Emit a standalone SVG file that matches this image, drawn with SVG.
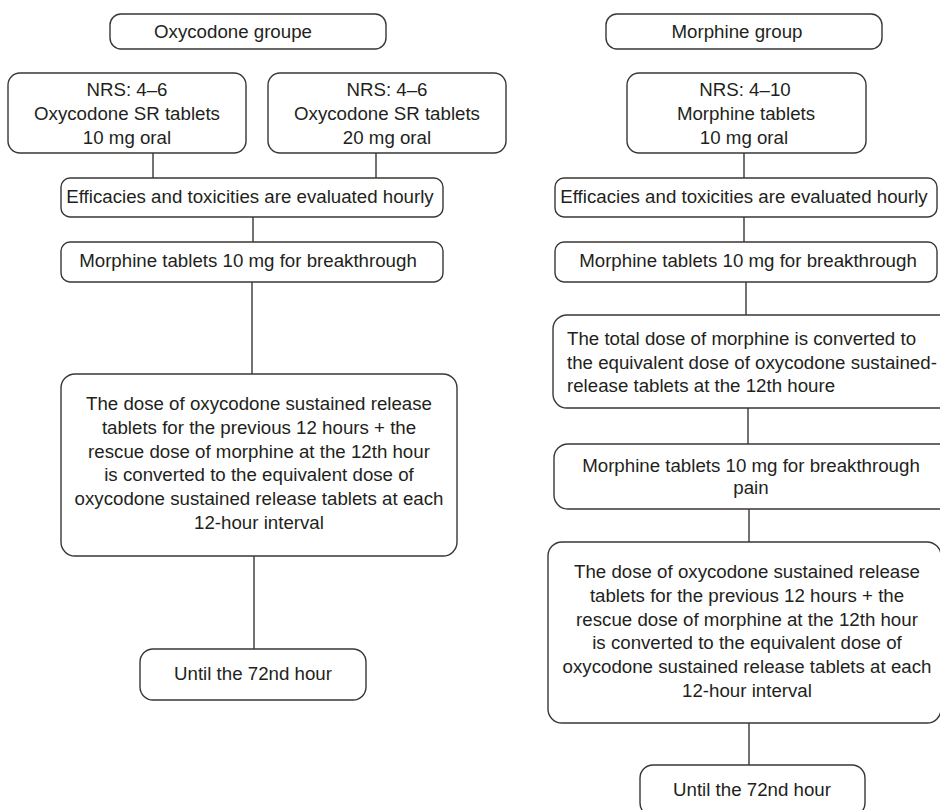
<svg xmlns="http://www.w3.org/2000/svg" width="940" height="810" viewBox="0 0 940 810">
<style>
.box{fill:#ffffff;stroke:#3a3635;stroke-width:1.4}
.t{font-family:"Liberation Sans",Arial,Helvetica,sans-serif;font-size:18.7px;fill:#231f20;text-anchor:middle}
.l{text-anchor:start}
.c{stroke:#3a3635;stroke-width:1.4;fill:none}
</style>
<rect width="940" height="810" fill="#ffffff"/>
<g id="connectors">
<line class="c" x1="153" y1="153" x2="153" y2="178"/>
<line class="c" x1="376" y1="153" x2="376" y2="178"/>
<line class="c" x1="253" y1="217" x2="253" y2="242"/>
<line class="c" x1="252" y1="282" x2="252" y2="374"/>
<line class="c" x1="254" y1="556" x2="254" y2="649"/>
<line class="c" x1="744" y1="153" x2="744" y2="178"/>
<line class="c" x1="744" y1="217" x2="744" y2="242"/>
<line class="c" x1="746" y1="282" x2="746" y2="315"/>
<line class="c" x1="748" y1="408" x2="748" y2="444"/>
<line class="c" x1="749" y1="509" x2="749" y2="542"/>
<line class="c" x1="749" y1="723" x2="749" y2="765"/>
</g>
<g id="oxy-group">
<rect class="box" x="110" y="14" width="276" height="35" rx="11"/>
<text class="t" x="233" y="38">Oxycodone groupe</text>
</g>
<g id="oxy-nrs-10">
<rect class="box" x="8" y="73" width="238" height="80" rx="12"/>
<text class="t" x="127" y="96">NRS: 4–6</text>
<text class="t" x="127" y="120">Oxycodone SR tablets</text>
<text class="t" x="127" y="144">10 mg oral</text>
</g>
<g id="oxy-nrs-20">
<rect class="box" x="268" y="73" width="238" height="80" rx="12"/>
<text class="t" x="387" y="96">NRS: 4–6</text>
<text class="t" x="387" y="120">Oxycodone SR tablets</text>
<text class="t" x="387" y="144">20 mg oral</text>
</g>
<g id="oxy-eval">
<rect class="box" x="61" y="178" width="382" height="39" rx="9"/>
<text class="t" x="250" y="203">Efficacies and toxicities are evaluated hourly</text>
</g>
<g id="oxy-break">
<rect class="box" x="61" y="242" width="382" height="40" rx="9"/>
<text class="t" x="248" y="267">Morphine tablets 10 mg for breakthrough</text>
</g>
<g id="oxy-convert">
<rect class="box" x="61" y="374" width="396" height="182" rx="14"/>
<text class="t" x="259" y="410">The dose of oxycodone sustained release</text>
<text class="t" x="259" y="433.8">tablets for the previous 12 hours + the</text>
<text class="t" x="259" y="457.6">rescue dose of morphine at the 12th hour</text>
<text class="t" x="259" y="481.4">is converted to the equivalent dose of</text>
<text class="t" x="259" y="505.2">oxycodone sustained release tablets at each</text>
<text class="t" x="259" y="529">12-hour interval</text>
</g>
<g id="oxy-until">
<rect class="box" x="140" y="649" width="226" height="51" rx="13"/>
<text class="t" x="253" y="680">Until the 72nd hour</text>
</g>
<g id="mor-group">
<rect class="box" x="606" y="14" width="276" height="35" rx="11"/>
<text class="t" x="737" y="38">Morphine group</text>
</g>
<g id="mor-nrs">
<rect class="box" x="627" y="73" width="239" height="80" rx="12"/>
<text class="t" x="745" y="96">NRS: 4–10</text>
<text class="t" x="746" y="120">Morphine tablets</text>
<text class="t" x="744" y="144">10 mg oral</text>
</g>
<g id="mor-eval">
<rect class="box" x="555" y="178" width="382" height="39" rx="9"/>
<text class="t" x="744" y="203">Efficacies and toxicities are evaluated hourly</text>
</g>
<g id="mor-break">
<rect class="box" x="555" y="242" width="382" height="40" rx="9"/>
<text class="t" x="748" y="267">Morphine tablets 10 mg for breakthrough</text>
</g>
<g id="mor-total">
<rect class="box" x="553" y="315" width="400" height="93" rx="14"/>
<text class="t l" x="567" y="345">The total dose of morphine is converted to</text>
<text class="t l" x="567" y="369">the equivalent dose of oxycodone sustained-</text>
<text class="t l" x="567" y="392">release tablets at the 12th houre</text>
</g>
<g id="mor-break-pain">
<rect class="box" x="554" y="444" width="400" height="65" rx="14"/>
<text class="t" x="751" y="472">Morphine tablets 10 mg for breakthrough</text>
<text class="t" x="751" y="494">pain</text>
</g>
<g id="mor-convert">
<rect class="box" x="548" y="542" width="393" height="181" rx="14"/>
<text class="t" x="747" y="578">The dose of oxycodone sustained release</text>
<text class="t" x="747" y="601.8">tablets for the previous 12 hours + the</text>
<text class="t" x="747" y="625.6">rescue dose of morphine at the 12th hour</text>
<text class="t" x="747" y="649.4">is converted to the equivalent dose of</text>
<text class="t" x="747" y="673.2">oxycodone sustained release tablets at each</text>
<text class="t" x="747" y="697">12-hour interval</text>
</g>
<g id="mor-until">
<rect class="box" x="640" y="765" width="225" height="51" rx="13"/>
<text class="t" x="752" y="796">Until the 72nd hour</text>
</g>
</svg>
